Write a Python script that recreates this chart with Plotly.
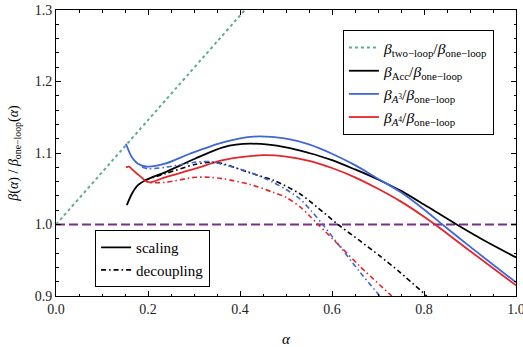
import plotly.graph_objects as go

# ---------------- data ----------------
alpha_2loop = [0.0, 0.2, 0.42]
beta_2loop = [1.0, 1.146, 1.307]

alpha_ref = [0.0, 1.0]
beta_ref = [1.0, 1.0]

alpha_acc_s = [0.154, 0.165, 0.178, 0.198, 0.237, 0.302, 0.363, 0.422, 0.5, 0.55, 0.6, 0.65, 0.7, 0.75, 0.8, 0.871, 0.93, 1.0]
beta_acc_s = [1.027, 1.043, 1.055, 1.063, 1.073, 1.092, 1.108, 1.113, 1.108, 1.100, 1.090, 1.077, 1.063, 1.047, 1.028, 1.0, 0.978, 0.954]

alpha_a3_s = [0.152, 0.165, 0.178, 0.198, 0.237, 0.291, 0.363, 0.43, 0.5, 0.55, 0.6, 0.65, 0.7, 0.75, 0.8, 0.84, 0.9, 1.0]
beta_a3_s = [1.113, 1.094, 1.085, 1.081, 1.085, 1.099, 1.115, 1.123, 1.120, 1.112, 1.099, 1.083, 1.064, 1.045, 1.021, 1.0, 0.969, 0.919]

alpha_a4_s = [0.152, 0.159, 0.167, 0.18, 0.193, 0.204, 0.237, 0.302, 0.363, 0.45, 0.5, 0.55, 0.6, 0.65, 0.7, 0.75, 0.8, 0.824, 0.9, 1.0]
beta_a4_s = [1.080, 1.081, 1.076, 1.069, 1.062, 1.059, 1.066, 1.078, 1.090, 1.097, 1.095, 1.089, 1.079, 1.066, 1.050, 1.032, 1.011, 1.0, 0.963, 0.915]

alpha_acc_d = [0.193, 0.237, 0.302, 0.335, 0.363, 0.422, 0.472, 0.53, 0.57, 0.613, 0.661, 0.704, 0.748, 0.806]
beta_acc_d = [1.062, 1.071, 1.084, 1.087, 1.085, 1.072, 1.062, 1.043, 1.023, 1.0, 0.977, 0.956, 0.933, 0.9]

alpha_a3_d = [0.187, 0.2, 0.237, 0.274, 0.302, 0.335, 0.363, 0.422, 0.472, 0.5, 0.53, 0.555, 0.58, 0.62, 0.66, 0.704]
beta_a3_d = [1.080, 1.078, 1.080, 1.084, 1.087, 1.088, 1.084, 1.073, 1.059, 1.049, 1.036, 1.019, 1.0, 0.967, 0.934, 0.9]

alpha_a4_d = [0.19, 0.2, 0.237, 0.302, 0.335, 0.363, 0.422, 0.472, 0.5, 0.53, 0.55, 0.57, 0.62, 0.66, 0.73]
beta_a4_d = [1.063, 1.059, 1.059, 1.066, 1.066, 1.064, 1.056, 1.045, 1.038, 1.025, 1.013, 1.0, 0.968, 0.942, 0.9]

x_ticks = [0.0, 0.2, 0.4, 0.6, 0.8, 1.0]
y_ticks = [0.9, 1.0, 1.1, 1.2, 1.3]

# ---------------- styles ----------------
TEAL = "#5aab97"
PURPLE = "#7b2d8e"
BLUE = "#3f66d9"
RED = "#e4262c"
BLACK = "#000000"
DASHDOT = "5px,3px,1.5px,3px"
FONT = "Liberation Serif"

fig = go.Figure()

def add(x, y, color, dash, name=None, legend="legend", show=False, width=1.8):
    fig.add_trace(go.Scatter(
        x=x, y=y, mode="lines", name=name, legend=legend, showlegend=show,
        line=dict(color=color, width=width, dash=dash, shape="spline", smoothing=0.8),
        hoverinfo="skip"))

add(alpha_ref, beta_ref, PURPLE, "9px,4px", width=2)
add(alpha_2loop, beta_2loop, TEAL, "dot",
    name="<i>β</i><sub>two−loop</sub>/<i>β</i><sub>one−loop</sub>", show=True, width=2)
add(alpha_acc_s, beta_acc_s, BLACK, "solid",
    name="<i>β</i><sub>Acc</sub>/<i>β</i><sub>one−loop</sub>", show=True)
add(alpha_a3_s, beta_a3_s, BLUE, "solid",
    name="<i>β</i><sub><i>A</i><sup>3</sup></sub>/<i>β</i><sub>one−loop</sub>", show=True)
add(alpha_a4_s, beta_a4_s, RED, "solid",
    name="<i>β</i><sub><i>A</i><sup>4</sup></sub>/<i>β</i><sub>one−loop</sub>", show=True)
add(alpha_acc_d, beta_acc_d, BLACK, DASHDOT, width=1.6)
add(alpha_a3_d, beta_a3_d, BLUE, DASHDOT, width=1.6)
add(alpha_a4_d, beta_a4_d, RED, DASHDOT, width=1.6)

# second legend: line style key
fig.add_trace(go.Scatter(x=[None], y=[None], mode="lines", name="scaling",
                         legend="legend2", line=dict(color=BLACK, width=1.8)))
fig.add_trace(go.Scatter(x=[None], y=[None], mode="lines", name="decoupling",
                         legend="legend2", line=dict(color=BLACK, width=1.6, dash=DASHDOT)))

axis_common = dict(
    showgrid=False, zeroline=False, showline=True, linecolor="black", linewidth=1,
    mirror="allticks", ticks="inside", ticklen=5, tickwidth=1, tickcolor="black",
    tickfont=dict(family=FONT, size=14, color="#222"), automargin=False,
    ticklabeloverflow="allow",
)

fig.update_xaxes(
    range=[0, 1.0], tickvals=x_ticks, ticktext=[f"{v:.1f}" for v in x_ticks],
    minor=dict(dtick=0.05, ticks="inside", ticklen=2.5, tickcolor="black", showgrid=False),
    title=dict(text="<i>α</i>", font=dict(family=FONT, size=15), standoff=18),
    **axis_common)
fig.update_yaxes(
    range=[0.9, 1.3], tickvals=y_ticks, ticktext=[f"{v:.1f}" for v in y_ticks],
    minor=dict(dtick=0.02, ticks="inside", ticklen=2.5, tickcolor="black", showgrid=False),
    title=dict(text="<i>β</i>(<i>α</i>) / <i>β</i><sub>one−loop</sub>(<i>α</i>)",
               font=dict(family=FONT, size=14), standoff=12),
    **axis_common)

fig.update_layout(
    width=523, height=347,
    margin=dict(l=56, r=7, t=10, b=51),
    paper_bgcolor="white", plot_bgcolor="white",
    font=dict(family=FONT, size=14, color="black"),
    legend=dict(x=0.952, xanchor="right", y=0.93, yanchor="top",
                bordercolor="black", borderwidth=1, bgcolor="white",
                font=dict(family=FONT, size=15.5), itemwidth=30, tracegroupgap=0),
    legend2=dict(x=0.085, xanchor="left", y=0.031, yanchor="bottom",
                 bordercolor="black", borderwidth=1, bgcolor="white",
                 font=dict(family=FONT, size=15), itemwidth=30),
)

fig.write_html("out.html")
